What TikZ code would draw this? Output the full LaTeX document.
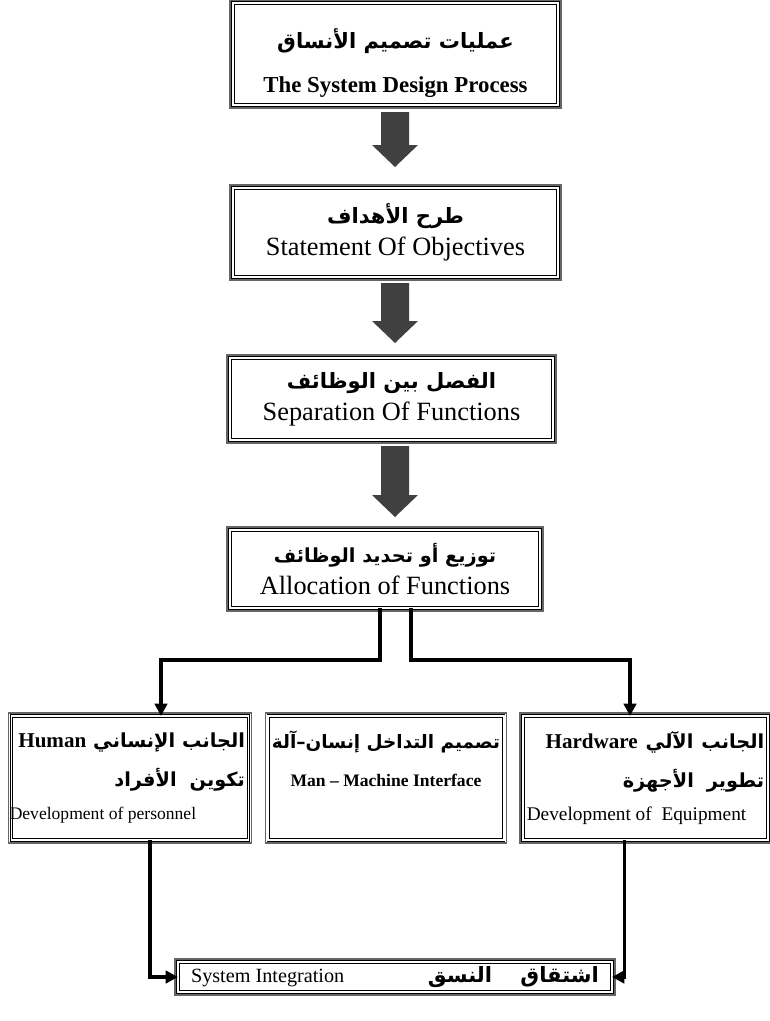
\documentclass[tikz,border=0pt]{standalone}
\usepackage{fontspec}
\setmainfont{Liberation Serif}
\newfontfamily\arabicfont[Script=Arabic]{DejaVu Sans}
\TeXXeTstate=1
\usetikzlibrary{arrows.meta, positioning, calc}
\newcommand{\arab}[2][11]{{\arabicfont\bfseries\fontsize{#1}{#1pt}\selectfont\spaceskip=0pt\beginR #2\endR}}
\newcommand{\lat}[1]{\beginL{\rmfamily\bfseries #1}\endL{}}
\newcommand{\ltr}[2]{\mbox{\fontsize{#1}{#1pt}\selectfont\spaceskip=0pt #2}}
% third (outer) line of the frame round a box
\newcommand{\outerfrm}[1]{%
  \draw[black!60, line width=0.9pt] ($(#1.north west)+(-3,-3)$) rectangle ($(#1.south east)+(3,3)$);}
% thick grey block arrow: x, top y, tip y
\newcommand{\blkarrow}[3]{%
  \fill[black!75] ({#1-14},#2) -- ({#1+14},#2) -- ({#1+14},{#3-22}) -- ({#1+23},{#3-22})
    -- (#1,#3) -- ({#1-23},{#3-22}) -- ({#1-14},{#3-22}) -- cycle;}

\begin{document}
\begin{tikzpicture}[x=0.02cm, y=-0.02cm,
  box/.style={draw, double, double distance=1.1pt, line width=0.45pt, inner sep=2pt,
    outer sep=0pt, font=\fontsize{15}{18}\selectfont},
  conn/.style={line width=2.2pt, -{Triangle[length=7pt,width=7pt]}}]
\useasboundingbox (0,0) rectangle (770,1021);
% main chain
\node[box, minimum width=6.5cm, minimum height=2.04cm, align=center] (sdp) at (395.5,54)
  {\rule{0pt}{22pt}\arab[12]{عمليات تصميم الأنساق}\\[7pt]{\fontsize{13}{15}\selectfont\bfseries The System Design Process}};
\node[box, minimum width=6.5cm, minimum height=1.78cm, align=center] (obj) at (395.5,232.5)
  {\arab[12]{طرح الأهداف}\\Statement Of Objectives};
\node[box, minimum width=6.46cm, minimum height=1.64cm, align=center] (sep) at (391.5,399)
  {\arab[12]{الفصل بين الوظائف}\\Separation Of Functions};
\node[box, minimum width=6.2cm, minimum height=1.56cm, align=center] (alloc) at (385,569)
  {\arab[11]{توزيع أو تحديد الوظائف}\\Allocation of Functions};
\foreach \n in {sdp,obj,sep,alloc}{\outerfrm{\n}}
\blkarrow{395}{112}{167}
\blkarrow{395}{283}{343}
\blkarrow{395}{446}{517}
% the three sides
\node[box, minimum width=4.72cm, minimum height=2.48cm, text width=4.6cm, align=right] (hum) at (130,778)
  {\arab[11]{الجانب الإنساني \lat{\fontsize{12}{14}\selectfont Human}}\\[4pt]\arab[11]{تكوين الأفراد}\\[1pt]
   \makebox[\linewidth][l]{\hspace*{-3pt}\ltr{10}{Development of personnel}}};
\node[box, minimum width=4.52cm, minimum height=2.48cm, align=center, text depth=22pt] (mmi) at (386,778)
  {\arab[10.5]{تصميم التداخل إنسان–آلة}\\[4pt]{\fontsize{10}{12}\selectfont\bfseries Man – Machine Interface}};
\node[box, minimum width=4.9cm, minimum height=2.48cm, text width=4.75cm, align=right] (hw) at (645.5,778)
  {\arab[11]{الجانب الآلي \lat{\fontsize{12}{14}\selectfont Hardware}}\\[4pt]\arab[11]{تطوير الأجهزة}\\[1pt]
   \makebox[\linewidth][l]{\ltr{11}{Development of\ \ Equipment}}};
\node[box, minimum width=8.68cm, minimum height=0.6cm, inner sep=0pt] (integ) at (395,977)
  {\makebox[8.16cm]{\ltr{11.5}{System Integration}\hfill\arab[12]{اشتقاق\quad\ النسق}}};
\foreach \n in {hum,mmi,hw,integ}{\outerfrm{\n}}
% connectors
\draw[conn] ($(alloc.south)+(-5,0)$) -- ++(0,52) -| ($(hum.north)+(31,0)$);
\draw[conn] ($(alloc.south)+(26,0)$) -- ++(0,52) -| ($(hw.north)+(-15.5,0)$);
\draw[conn] ($(hum.south)+(20,0)$) |- (integ.west);
\draw[conn] ($(hw.south)+(-21,0)$) |- (integ.east);
\end{tikzpicture}
\end{document}
